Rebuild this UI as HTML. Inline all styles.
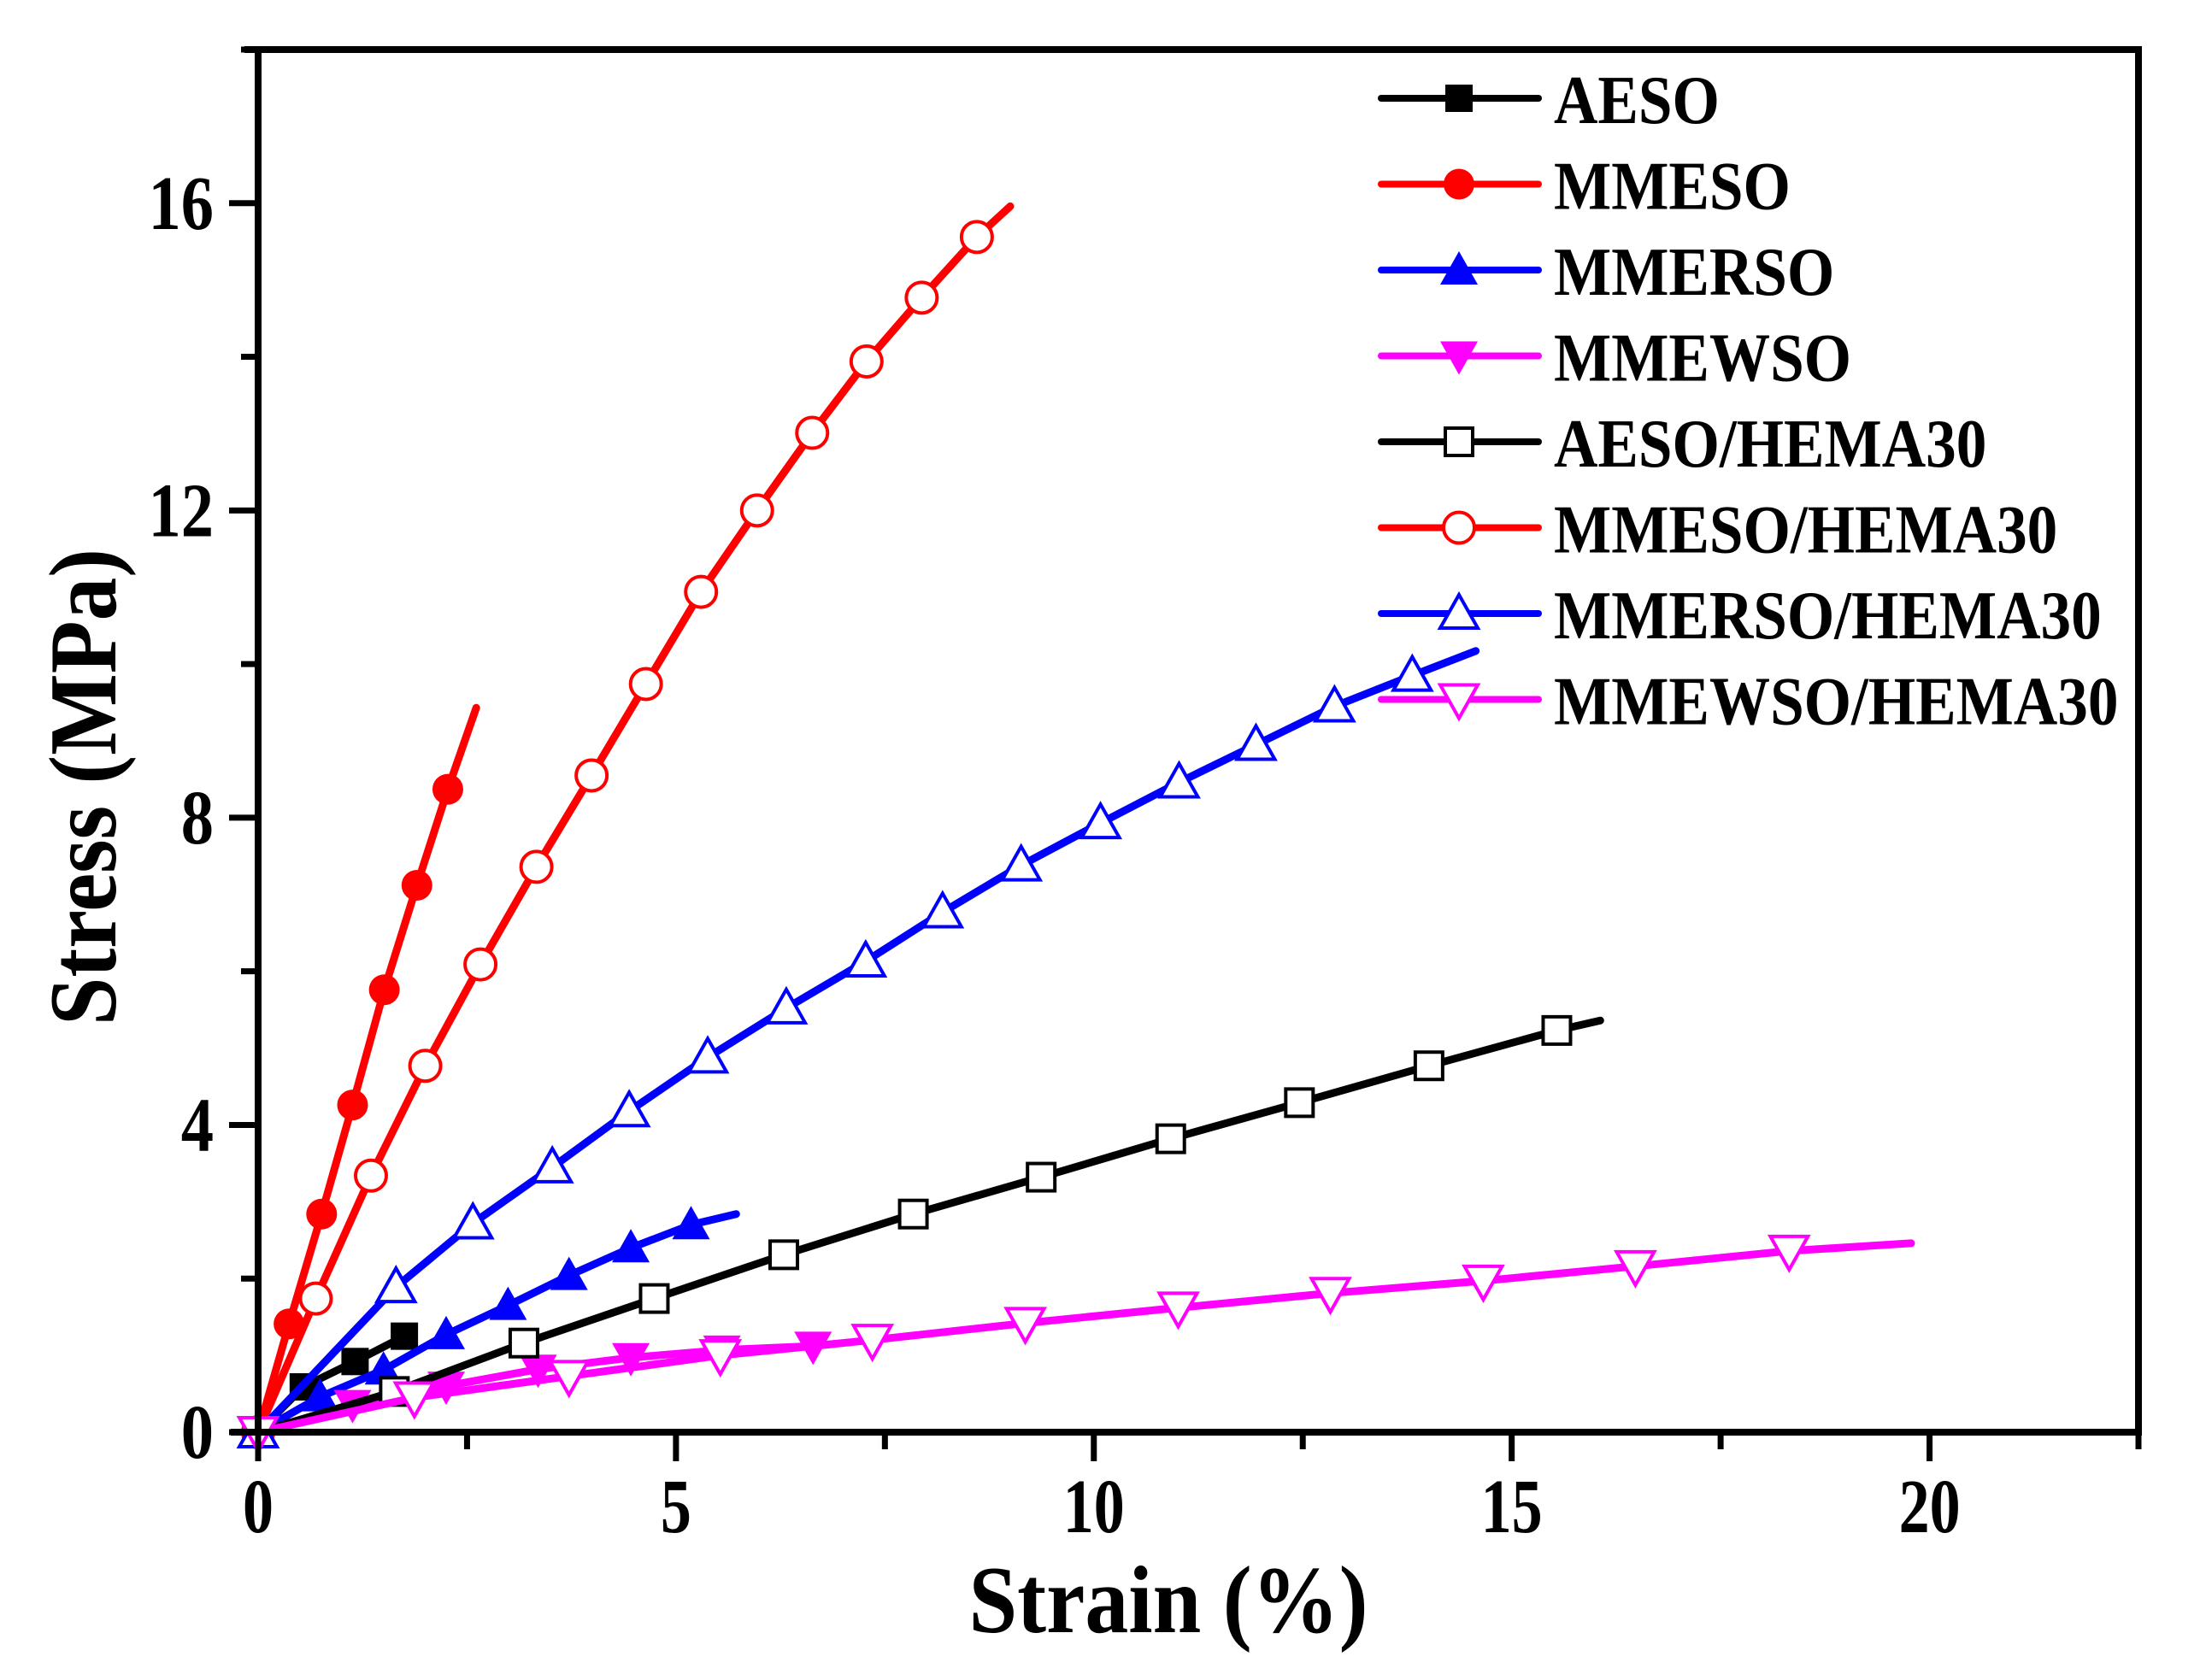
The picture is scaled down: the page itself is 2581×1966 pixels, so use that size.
<!DOCTYPE html>
<html><head><meta charset="utf-8"><style>
body{margin:0;background:#fff}
svg{display:block}
text{font-family:"Liberation Serif",serif;font-weight:bold;fill:#000}
</style></head><body>
<svg id="chart" width="2581" height="1966" viewBox="0 0 2581 1966" xmlns="http://www.w3.org/2000/svg">
<g id="plot"></g>
<g id="axes"></g>
<g id="legend"></g>
<text x="1367" y="1910" font-size="112" text-anchor="middle" textLength="467" lengthAdjust="spacingAndGlyphs">Strain (%)</text>
<text transform="translate(135,921) rotate(-90)" font-size="112" text-anchor="middle" textLength="558" lengthAdjust="spacingAndGlyphs">Stress (MPa)</text>
</svg>
<script>
const xTicks=[0,5,10,15,20];
const yTicks=[0,4,8,12,16];
const seriesNames=["AESO","MMESO","MMERSO","MMEWSO","AESO/HEMA30","MMESO/HEMA30","MMERSO/HEMA30","MMEWSO/HEMA30"];
const aesoX=[0,0.54,1.16,1.75];
const aesoY=[0,0.59,0.92,1.25];
const mmesoX=[0,0.37,0.76,1.13,1.51,1.9,2.27,2.61];
const mmesoY=[0,1.41,2.84,4.26,5.76,7.12,8.37,9.43];
const mmersoX=[0,0.74,1.5,2.25,2.99,3.72,4.46,5.18,5.72];
const mmersoY=[0,0.46,0.81,1.27,1.65,2.04,2.4,2.7,2.84];
const mmewsoX=[0,1.13,2.25,3.35,4.46,5.55,6.64,6.9];
const mmewsoY=[0,0.36,0.6,0.82,0.97,1.07,1.12,1.15];
const aesoHX=[0,1.63,3.18,4.74,6.29,7.84,9.37,10.92,12.46,14.01,15.54,16.06];
const aesoHY=[0,0.53,1.16,1.74,2.31,2.84,3.32,3.82,4.29,4.77,5.23,5.36];
const mmesoHX=[0,0.69,1.35,2.0,2.66,3.33,3.99,4.64,5.3,5.97,6.63,7.28,7.94,8.6,9.0];
const mmesoHY=[0,1.74,3.34,4.77,6.09,7.36,8.55,9.74,10.94,12.0,13.01,13.94,14.77,15.56,15.96];
const mmersoHX=[0,1.65,2.57,3.52,4.44,5.38,6.32,7.27,8.19,9.13,10.08,11.02,11.94,12.88,13.81,14.57];
const mmersoHY=[0,1.89,2.72,3.45,4.18,4.88,5.52,6.13,6.77,7.38,7.93,8.46,8.95,9.45,9.85,10.17];
const mmewsoHX=[0,1.87,3.72,5.53,7.35,9.18,11.01,12.83,14.66,16.48,18.32,19.78];
const mmewsoHY=[0,0.45,0.73,1.0,1.2,1.42,1.62,1.81,1.97,2.16,2.36,2.46];
const lastIsMarker=[true,false,false,false,false,false,false,false];

const NS="http://www.w3.org/2000/svg";
const X0=302,X1=2502,XMIN=0,XMAX=22.5;
const Y0=1676,YT=58,YMIN=0,YMAX=18;
function sx(v){return X0+(v-XMIN)/(XMAX-XMIN)*(X1-X0);}
function sy(v){return Y0-(v-YMIN)/(YMAX-YMIN)*(Y0-YT);}
function mk(tag,attrs,parent){const e=document.createElementNS(NS,tag);for(const k in attrs)e.setAttribute(k,attrs[k]);parent.appendChild(e);return e;}

const axes=document.getElementById('axes');
const plot=document.getElementById('plot');
const legend=document.getElementById('legend');

let fr=mk('path',{d:`M270 ${Y0} H${X1} M${X0} ${Y0+4} V${YT} M286 ${YT} H${X1+4} M${X1} ${YT} V${Y0+4}`,stroke:'#000','stroke-width':8,fill:'none'},axes);



xTicks.forEach(t=>{
  const l=mk('line',{x1:sx(t),x2:sx(t),y1:Y0,y2:Y0+34,stroke:'#000','stroke-width':7},axes);
  
  
  const tx=mk('text',{transform:`translate(${sx(t)},1793) scale(0.8,1)`,'font-size':90,'text-anchor':'middle'},axes);
  tx.textContent=t;
  
  
});
[2.5,7.5,12.5,17.5,22.5].forEach(t=>{
  const l=mk('line',{x1:sx(t),x2:sx(t),y1:Y0,y2:Y0+20,stroke:'#000','stroke-width':7},axes);
  
  
});
yTicks.forEach(t=>{
  const l=mk('line',{x1:X0-34,x2:X0,y1:sy(t),y2:sy(t),stroke:'#000','stroke-width':7},axes);
  
  
  const tx=mk('text',{transform:`translate(250,${sy(t)+30}) scale(0.85,1)`,'font-size':90,'text-anchor':'end'},axes);
  tx.textContent=t;
  
  
});
[2,6,10,14,18].forEach(t=>{
  const l=mk('line',{x1:X0-20,x2:X0,y1:sy(t),y2:sy(t),stroke:'#000','stroke-width':7},axes);
  
  
});

const colors=['#000','#f00','#00f','#f0f','#000','#f00','#00f','#f0f'];
const shapes=['square','circle','up','down','square','circle','up','down'];
const filled=[true,true,true,true,false,false,false,false];
const xs=[aesoX,mmesoX,mmersoX,mmewsoX,aesoHX,mmesoHX,mmersoHX,mmewsoHX];
const ys=[aesoY,mmesoY,mmersoY,mmewsoY,aesoHY,mmesoHY,mmersoHY,mmewsoHY];

function marker(parent,shape,cx,cy,col,fill){
  const f=fill?col:'#fff', st={stroke:col,'stroke-width':fill?0:4,fill:f};
  let e;
  if(shape==='square') e=mk('rect',Object.assign({x:cx-16,y:cy-16,width:32,height:32},st),parent);
  else if(shape==='circle') e=mk('circle',Object.assign({cx:cx,cy:cy,r:18},st),parent);
  else if(shape==='up') e=mk('polygon',Object.assign({points:`${cx},${cy-22} ${cx+22},${cy+17} ${cx-22},${cy+17}`},st),parent);
  else e=mk('polygon',Object.assign({points:`${cx},${cy+22} ${cx+22},${cy-17} ${cx-22},${cy-17}`},st),parent);
  return e;
}

for(let i=0;i<8;i++){
  const g=mk('g',{},plot);
  
  
  const pts=xs[i].map((x,j)=>sx(x).toFixed(1)+','+sy(ys[i][j]).toFixed(1)).join(' ');
  const pl=mk('polyline',{points:pts,fill:'none',stroke:colors[i],'stroke-width':9,'stroke-linejoin':'round','stroke-linecap':'round'},g);
  
  
  const n=xs[i].length-(lastIsMarker[i]?0:1);
  for(let j=0;j<n;j++){
    const m=marker(g,shapes[i],sx(xs[i][j]),sy(ys[i][j]),colors[i],filled[i]);
    
    
  }
}

for(let i=0;i<8;i++){
  const y=115+i*100.5;
  const g=mk('g',{},legend);
  
  
  mk('line',{x1:1616,x2:1800,y1:y,y2:y,stroke:colors[i],'stroke-width':8,'stroke-linecap':'round'},g);
  marker(g,shapes[i],1707,y,colors[i],filled[i]);
  const t=mk('text',{transform:`translate(1818,${y+29}) scale(0.89,1)`,'font-size':80},g);
  t.textContent=seriesNames[i];
}
</script>
</body></html>
